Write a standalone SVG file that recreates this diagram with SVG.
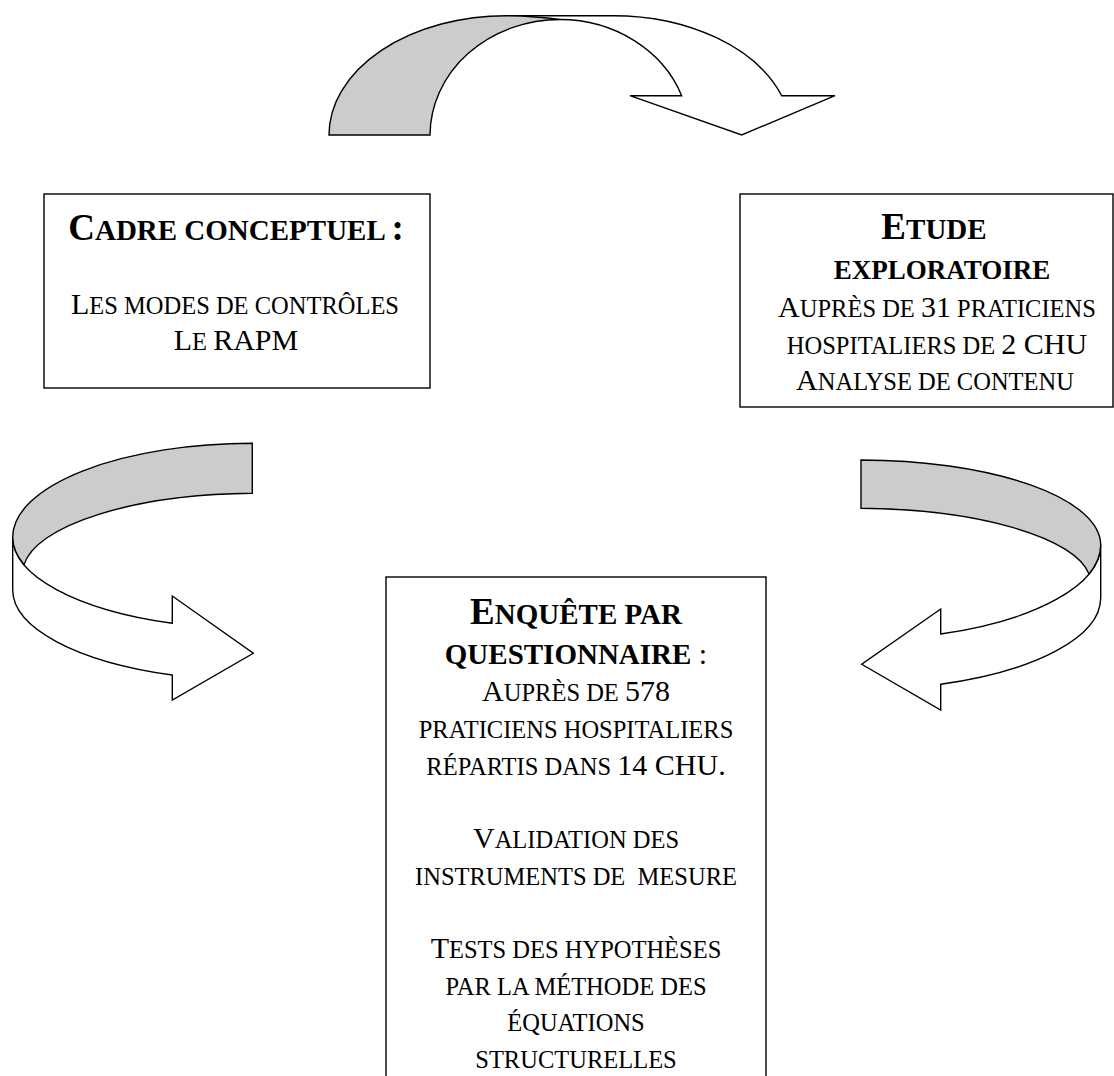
<svg xmlns="http://www.w3.org/2000/svg" width="1114" height="1076" viewBox="0 0 1114 1076">
<style>
.box{fill:#fff;stroke:#000;stroke-width:1.4}
.sh{stroke:#000;stroke-width:1.4;stroke-linejoin:miter}
.g{fill:#cccccc}
.w{fill:#fff}
text{font-family:"Liberation Serif","Times New Roman",serif;fill:#000;text-anchor:middle}
.tb{font-weight:bold}
.TL{font-size:37px}
.TS{font-size:29px}
.BL{font-size:30px}
.BS{font-size:24.5px}
</style>
<g id="connectors">
  <g id="arrow-top">
    <path class="sh w" d="M506.7,15.7 L613,15.7 A178.7,119.3 0 0 1 781.7,95.7 L835,95.7 L741.7,135 L630,95.7 L681.7,95.7 A130,116 0 0 0 560,19.5"/>
    <path class="sh g" d="M329,135 A177.4,119.3 0 0 1 506.7,15.7 Q535,16 560,19.5 A130,116 0 0 0 430,135 Z"/>
  </g>
  <g id="arrow-left">
    <path class="sh w" d="M12.7,537 A245,92 0 0 0 172.3,623.3 L172.3,596 L253.3,653.3 L172.3,700 L172.3,675 A245,91 0 0 1 12.7,590 Z"/>
    <path class="sh g" d="M252.3,443.3 A240,94 0 0 0 12.7,537 A245,92 0 0 0 24,564.6 A235,80 0 0 1 252.3,493.3 Z"/>
  </g>
  <g id="arrow-right">
    <path class="sh w" d="M1100.7,545 A245,95 0 0 1 940.7,634 L940.7,609 L861.7,664.3 L940.7,710 L940.7,684.3 A245,92 0 0 0 1100.7,598.3 Z"/>
    <path class="sh g" d="M861,460 A240,85 0 0 1 1100.7,545 A245,95 0 0 1 1089,574 A235,75 0 0 0 861,508.3 Z"/>
  </g>
</g>
<g id="node-cadre">
  <rect class="box" x="44" y="194" width="386" height="194"/>
  <text class="tb" x="236" y="240"><tspan class="TL">C</tspan><tspan class="TS">ADRE CONCEPTUEL </tspan><tspan class="TL">:</tspan></text>
  <text x="235" y="314"><tspan class="BL">L</tspan><tspan class="BS">ES MODES DE CONTRÔLES</tspan></text>
  <text x="236" y="350"><tspan class="BL">L</tspan><tspan class="BS">E </tspan><tspan class="BL">RAPM</tspan></text>
</g>
<g id="node-etude">
  <rect class="box" x="740" y="194" width="373" height="213"/>
  <text class="tb" x="934" y="239"><tspan class="TL">E</tspan><tspan class="TS">TUDE</tspan></text>
  <text class="tb" x="942" y="279" style="font-size:27px">EXPLORATOIRE</text>
  <text x="937" y="317"><tspan class="BL">A</tspan><tspan class="BS">UPRÈS DE </tspan><tspan class="BL">31</tspan><tspan class="BS"> PRATICIENS</tspan></text>
  <text x="937" y="353.5"><tspan class="BS">HOSPITALIERS DE </tspan><tspan class="BL">2 CHU</tspan></text>
  <text x="935" y="390"><tspan class="BL">A</tspan><tspan class="BS">NALYSE DE CONTENU</tspan></text>
</g>
<g id="node-enquete">
  <rect class="box" x="386" y="577" width="380" height="520"/>
  <text class="tb" x="576" y="624"><tspan class="TL">E</tspan><tspan class="TS">NQUÊTE PAR</tspan></text>
  <text x="576" y="664"><tspan class="tb TS">QUESTIONNAIRE</tspan><tspan class="BL"> :</tspan></text>
  <text x="576" y="701"><tspan class="BL">A</tspan><tspan class="BS">UPRÈS DE </tspan><tspan class="BL">578</tspan></text>
  <text class="BS" x="576" y="738">PRATICIENS HOSPITALIERS</text>
  <text x="576" y="775"><tspan class="BS">RÉPARTIS DANS </tspan><tspan class="BL">14 CHU.</tspan></text>
  <text x="576" y="848"><tspan class="BL">V</tspan><tspan class="BS">ALIDATION DES</tspan></text>
  <text class="BS" x="576" y="885">INSTRUMENTS DE&#160; MESURE</text>
  <text x="576" y="958"><tspan class="BL">T</tspan><tspan class="BS">ESTS DES HYPOTHÈSES</tspan></text>
  <text class="BS" x="576" y="995">PAR LA MÉTHODE DES</text>
  <text class="BS" x="576" y="1031">ÉQUATIONS</text>
  <text class="BS" x="576" y="1068">STRUCTURELLES</text>
</g>
</svg>
